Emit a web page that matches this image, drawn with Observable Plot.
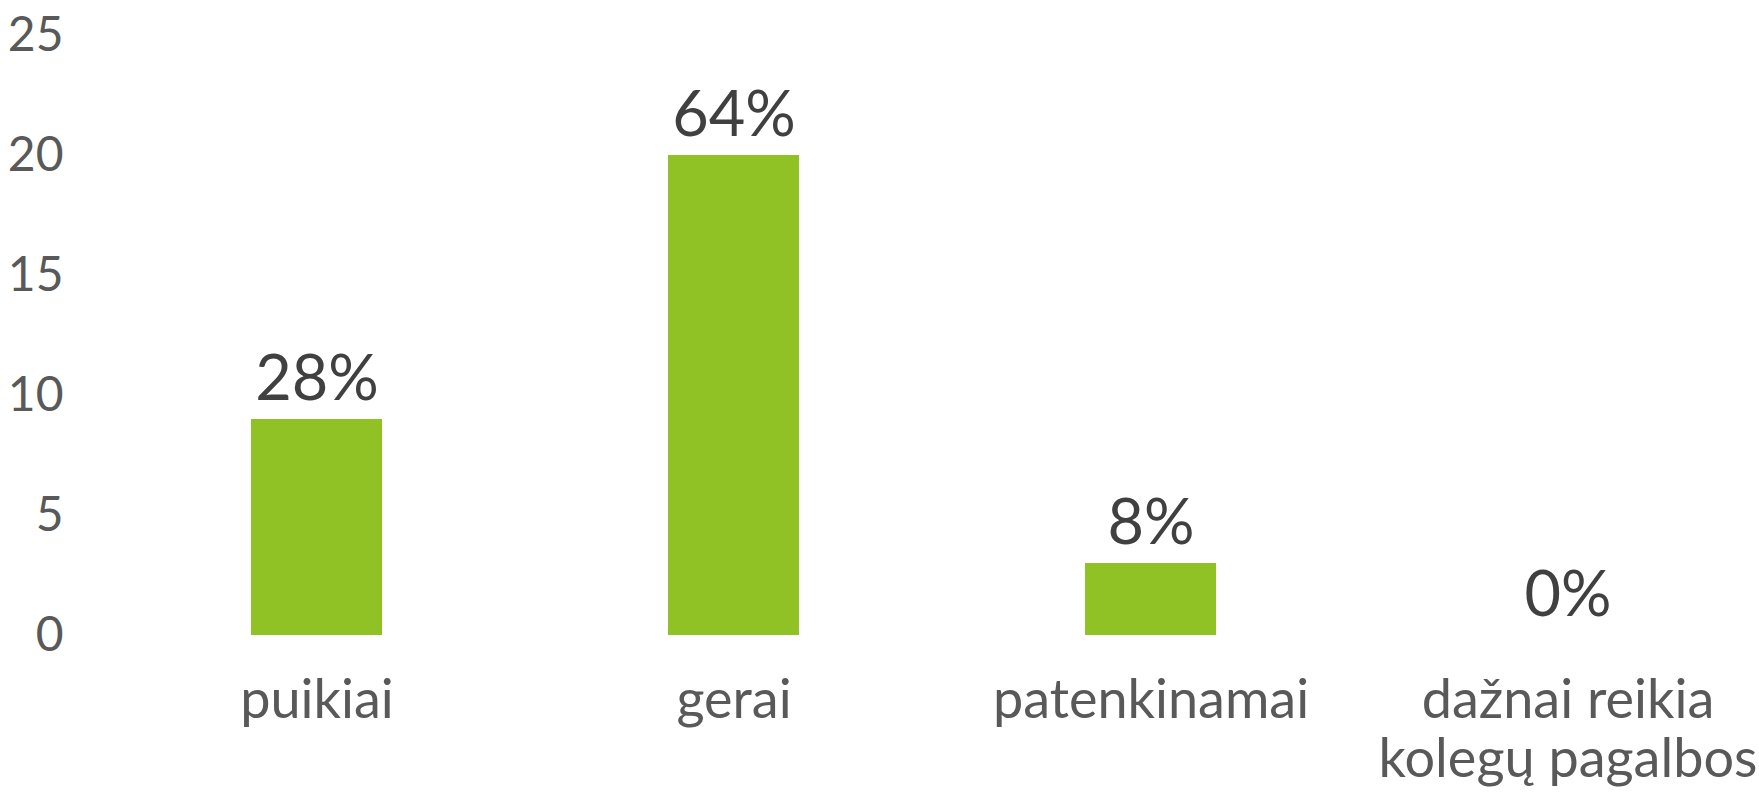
<!DOCTYPE html>
<html>
<head>
<meta charset="utf-8">
<script src="https://cdn.jsdelivr.net/npm/d3@7"></script>
<script src="https://cdn.jsdelivr.net/npm/@observablehq/plot@0.6"></script>
<style>
  html, body { margin: 0; padding: 0; background: #fff; }
  svg { display: block; }
</style>
</head>
<body>
<div id="chart"></div>
<script>
const categories = ["puikiai", "gerai", "patenkinamai", "dažnai reikia\nkolegų pagalbos"];
const counts = [9, 20, 3, 0];
const percentLabels = ["28%", "64%", "8%", "0%"];
const yTicks = [0, 5, 10, 15, 20, 25];

const data = categories.map((c, i) => ({category: c, value: counts[i], label: percentLabels[i]}));
const font = "Lato, 'Open Sans', sans-serif";

const chart = Plot.plot({
  width: 1759,
  height: 794,
  marginTop: 35,
  marginBottom: 159,
  marginLeft: 108,
  marginRight: 0,
  style: {fontFamily: font, background: "#fff", overflow: "hidden"},
  x: {domain: categories, range: [108, 1776], paddingInner: 0.686, paddingOuter: 0.343, label: null},
  y: {domain: [0, 25], label: null},
  marks: [
    Plot.ruleY(yTicks, {stroke: "#d9d9d9", strokeWidth: 1.5, x1: 108, x2: 1759}),
    Plot.barY(data, {x: "category", y: "value", fill: "#90c226"}),
    Plot.text(data, {x: "category", y: "value", text: "label", dy: -20, lineAnchor: "bottom", fontSize: 63, fill: "#404040", fontFamily: font}),
    Plot.axisY({ticks: yTicks, tickSize: 0, tickPadding: 45, fontSize: 48, fill: "#595959", fontFamily: font}),
    Plot.axisX({tickSize: 0, tickPadding: 40, fontSize: 54, fill: "#595959", lineAnchor: "top", lineHeight: 1.1, fontFamily: font})
  ]
});
document.getElementById("chart").appendChild(chart);
</script>
</body>
</html>
